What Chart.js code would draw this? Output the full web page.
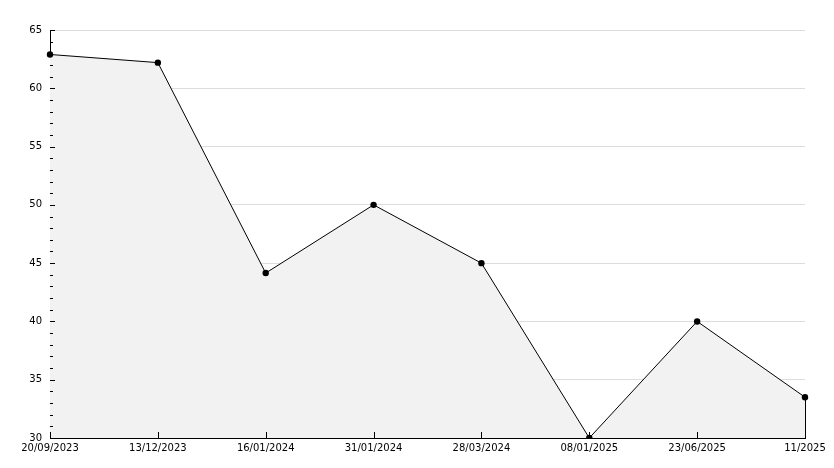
<!DOCTYPE html>
<html><head><meta charset="utf-8">
<script src="https://cdn.jsdelivr.net/npm/chart.js@4/dist/chart.umd.min.js"></script>
<style>html,body{margin:0;padding:0;background:#fff}#wrap{width:834px;height:468px}</style>
</head><body><div id="wrap"><canvas id="c" width="834" height="468"></canvas></div>
<script>
const categories = ["20/09/2023","13/12/2023","16/01/2024","31/01/2024","28/03/2024","08/01/2025","23/06/2025","11/2025"];
const values = [62.9, 62.2, 44.15, 50, 45, 30, 40, 33.5];
const yMin = 30, yMax = 65, yStep = 5;

const tickPlugin = {
  id: 'inTicks',
  afterDraw(chart) {
    const ctx = chart.ctx, x = chart.scales.x, y = chart.scales.y;
    const left = chart.chartArea.left, bottom = chart.chartArea.bottom;
    ctx.save();
    ctx.strokeStyle = '#000'; ctx.lineWidth = 1;
    ctx.beginPath();
    for (let v = yMin; v <= yMax; v++) {
      const py = Math.round(y.getPixelForValue(v)) + 0.5;
      const len = (v % yStep === 0) ? 5 : 3;
      ctx.moveTo(left, py); ctx.lineTo(left + len, py);
    }
    for (let i = 0; i < categories.length; i++) {
      const px = Math.round(x.getPixelForValue(i)) + 0.5;
      ctx.moveTo(px, bottom); ctx.lineTo(px, bottom - 6);
    }
    const li = values.length - 1;
    const lx = Math.round(x.getPixelForValue(li)) + 0.5;
    ctx.moveTo(lx, y.getPixelForValue(values[li])); ctx.lineTo(lx, bottom);
    ctx.stroke();
    ctx.restore();
  }
};

new Chart(document.getElementById('c'), {
  type: 'line',
  data: {
    labels: categories,
    datasets: [{
      data: values,
      borderColor: '#000', borderWidth: 1,
      backgroundColor: '#f2f2f2',
      fill: 'start',
      tension: 0,
      pointStyle: 'circle', pointRadius: 3.2, pointBackgroundColor: '#000', pointBorderColor: '#000', pointBorderWidth: 0
    }]
  },
  options: {
    responsive: false, animation: false,
    layout: { padding: { top: 30, right: 29, left: 0, bottom: 0 } },
    plugins: { legend: { display: false }, tooltip: { enabled: false } },
    scales: {
      x: {
        offset: false,
        grid: { display: false, drawTicks: false },
        border: { display: true, color: '#000', width: 1 },
        ticks: { color: '#000', font: { family: 'DejaVu Sans', size: 10 }, padding: 4, maxRotation: 0, autoSkip: false },
        afterFit(s) { s.height = 30; }
      },
      y: {
        min: yMin, max: yMax,
        grid: { color: '#dddddd', drawTicks: false },
        border: { display: true, color: '#000', width: 1 },
        ticks: { stepSize: yStep, color: '#000', font: { family: 'DejaVu Sans', size: 10 }, padding: 8 },
        afterFit(s) { s.width = 50; }
      }
    }
  },
  plugins: [tickPlugin]
});
</script></body></html>
